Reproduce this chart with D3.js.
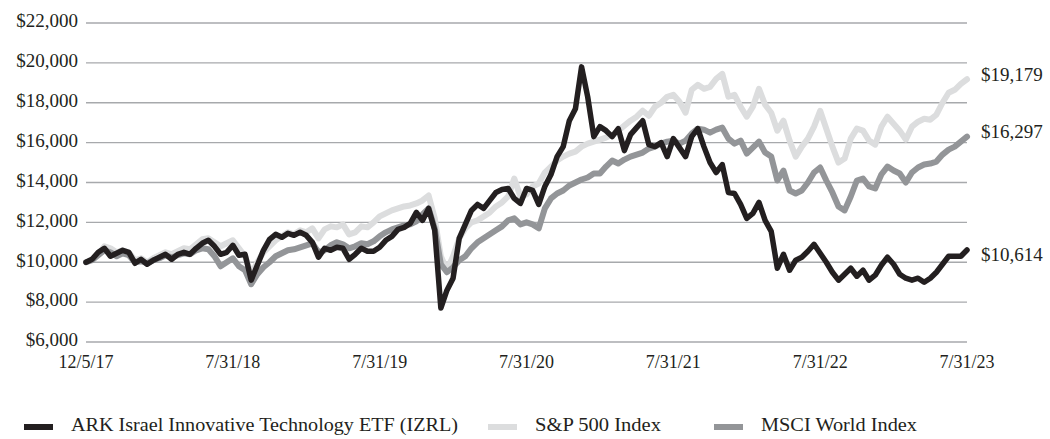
<!DOCTYPE html>
<html>
<head>
<meta charset="utf-8">
<script src="https://cdn.jsdelivr.net/npm/d3@7"></script>
<style>
  body { margin: 0; background: #fff; }
  text { font-family: "Liberation Serif", "DejaVu Serif", serif; fill: #231f20; }
</style>
</head>
<body>
<div id="visual"></div>
<script>
// growth of $10,000, sampled 24 steps per label interval
let tickLabels = ["12/5/17", "7/31/18", "7/31/19", "7/31/20", "7/31/21", "7/31/22", "7/31/23"]
let yTicks = [6000, 8000, 10000, 12000, 14000, 16000, 18000, 20000, 22000]
let seriesNames = ["ARK Israel Innovative Technology ETF (IZRL)", "S&P 500 Index", "MSCI World Index"]
let endLabels = ["$10,614", "$19,179", "$16,297"]

let izrl = [
  10000, 10150, 10500, 10700, 10300, 10450, 10600, 10500, 9950, 10150, 9900, 10100, 10250, 10400, 10150, 10400, 10500, 10400, 10700, 10950, 11100, 10800, 10400, 10500,
  10850, 10350, 10400, 9100, 9850, 10600, 11150, 11400, 11250, 11450, 11350, 11500, 11350, 11000, 10250, 10700, 10600, 10750, 10700, 10150, 10400, 10700, 10550, 10550,
  10750, 11100, 11300, 11650, 11750, 11950, 12500, 12100, 12700, 11600, 7700, 8600, 9200, 11200, 11900, 12600, 12900, 12700, 13100, 13500, 13650, 13700, 13200, 12950,
  13700, 13600, 12900, 13800, 14400, 15300, 15800, 17100, 17700, 19800, 18300, 16300, 16800, 16600, 16300, 16700, 15600, 16400, 16750, 17100, 15900, 15800, 16000, 15300,
  16200, 15750, 15300, 16300, 16700, 15800, 15000, 14500, 14900, 13500, 13450, 12900, 12200, 12450, 13000, 12100, 11550, 9700, 10400, 9600, 10100, 10250, 10550, 10900,
  10450, 10000, 9500, 9100, 9400, 9700, 9300, 9600, 9100, 9350, 9850, 10250, 9900, 9400, 9200, 9100, 9200, 9000, 9200, 9500, 9900, 10300, 10300, 10300,
  10614
]
let sp500 = [
  10000, 10150, 10400, 10800, 10700, 10500, 10600, 10500, 10100, 10200, 10000, 10200, 10350, 10500, 10400, 10550, 10700, 10650, 10900, 11150, 11200, 11000, 10800, 10950,
  11100, 10700, 10300, 9400, 10000, 10500, 10800, 11100, 11300, 11500, 11400, 11600, 11500, 11700, 11200, 11650, 11800, 11750, 11900, 11400, 11500, 11800, 11750, 12000,
  12300, 12450, 12600, 12700, 12800, 12850, 12950, 13100, 13350, 12200, 10300, 9600, 10300, 11200, 11700, 12000, 12100, 12300, 12500, 12800, 13000, 13300, 14200, 13300,
  13400, 13800, 13950, 14500, 14800, 15100, 15300, 15450, 15550, 15800, 15950, 16050, 16150, 16250, 16400, 16600, 16850, 17100, 17300, 17600, 17350, 17800, 18000, 18300,
  18400, 18050, 17500, 18650, 18900, 18700, 18800, 19200, 19450, 18300, 18400, 17800, 17300, 17800, 18700, 17900, 17500, 16600, 17100, 16100, 15300, 15800, 16200, 16800,
  17600, 16700, 15800, 15000, 15200, 16200, 16700, 16600, 16100, 15900, 16800, 17300, 16950, 16600, 16150, 16800, 17050, 17200, 17150, 17400, 18000, 18500, 18650, 18950,
  19179
]
let msci = [
  10000, 10100, 10350, 10600, 10500, 10300, 10450, 10350, 10000, 10050, 9950, 10100, 10200, 10350, 10250, 10350, 10450, 10400, 10600, 10700, 10650, 10300, 9800, 10000,
  10200, 9800, 9600, 8900, 9400, 9750, 10000, 10300, 10450, 10600, 10650, 10750, 10850, 10950, 10500, 10600, 10850, 11000, 10900, 10700, 10800, 10950, 10900, 11050,
  11300, 11500, 11650, 11750, 11850, 11900, 12050, 12400, 12700, 11700, 9900, 9500, 9750, 10100, 10300, 10700, 11000, 11200, 11400, 11600, 11800, 12100, 12200, 11900,
  12000, 11900, 11700, 12700, 13200, 13450, 13600, 13850, 14000, 14150, 14250, 14450, 14450, 14800, 15100, 14950, 15150, 15300, 15400, 15500, 15700, 15800, 15950, 16050,
  16100, 15950, 16100, 16450, 16700, 16650, 16500, 16650, 16750, 16200, 15950, 16100, 15450, 15750, 16050, 15500, 15300, 14100, 14600, 13600, 13450, 13600, 14000, 14500,
  14750, 14100, 13500, 12800, 12600, 13300, 14100, 14200, 13800, 13700, 14400, 14800, 14600, 14450, 14000, 14500, 14750, 14900, 14950, 15050, 15400, 15650, 15800, 16050,
  16297
]

let width = 1050, height = 439
let colors = ["#231f20", "#dcddde", "#939598"]

var svg = d3.select("#visual")
    .append("svg")
    .attr("width", width)
    .attr("height", height)

let x = d3.scaleLinear()
    .domain([0, izrl.length - 1])
    .range([86, 967])

let y = d3.scaleLinear()
    .domain([6000, 22000])
    .range([342, 23])

let step = (izrl.length - 1) / (tickLabels.length - 1)

// gridlines
svg.selectAll("grid")
    .data(yTicks)
    .enter()
    .append("line")
    .attr("x1", x(0))
    .attr("x2", x(izrl.length - 1))
    .attr("y1", d => y(d))
    .attr("y2", d => y(d))
    .attr("stroke", "#a7a9ac")
    .attr("stroke-width", 1.3)

svg.selectAll("ylabel")
    .data(yTicks)
    .enter()
    .append("text")
    .attr("x", 78)
    .attr("y", d => y(d))
    .attr("text-anchor", "end")
    .attr("dominant-baseline", "middle")
    .attr("font-size", 19)
    .text(d => "$" + d3.format(",")(d))

svg.selectAll("xlabel")
    .data(tickLabels)
    .enter()
    .append("text")
    .attr("x", (d, i) => x(i * step))
    .attr("y", 364)
    .attr("text-anchor", "middle")
    .attr("dominant-baseline", "middle")
    .attr("font-size", 18)
    .text(d => d)

let line = d3.line()
    .x((d, i) => x(i))
    .y(d => y(d))

// light first, black on top
let drawOrder = [[sp500, 1, 6], [msci, 2, 6], [izrl, 0, 5.5]]
drawOrder.forEach(([s, c, w]) => {
    svg.append("path")
        .datum(s)
        .attr("d", line)
        .attr("fill", "none")
        .attr("stroke", colors[c])
        .attr("stroke-width", w)
        .attr("stroke-linejoin", "round")
        .attr("stroke-linecap", "round")
})

let lastValues = [izrl[izrl.length - 1], sp500[sp500.length - 1], msci[msci.length - 1]]
let endOffsets = [7, -3, -3]
svg.selectAll("endlabel")
    .data(endLabels)
    .enter()
    .append("text")
    .attr("x", 981)
    .attr("y", (d, i) => y(lastValues[i]) + endOffsets[i])
    .attr("dominant-baseline", "middle")
    .attr("font-size", 19)
    .text(d => d)

// legend
let legendX = [24, 488, 714]
let legendW = [387, 126, 156]
let legend = svg.selectAll("legend")
    .data(seriesNames)
    .enter()
    .append("g")
    .attr("transform", (d, i) => "translate(" + legendX[i] + ",427)")

legend.append("rect")
    .attr("x", 0)
    .attr("y", -3)
    .attr("width", 29)
    .attr("height", 6)
    .attr("fill", (d, i) => colors[i])

legend.append("text")
    .attr("x", 47)
    .attr("y", 0)
    .attr("dominant-baseline", "middle")
    .attr("font-size", 19)
    .attr("textLength", (d, i) => legendW[i])
    .attr("lengthAdjust", "spacingAndGlyphs")
    .text(d => d)
</script>
</body>
</html>
